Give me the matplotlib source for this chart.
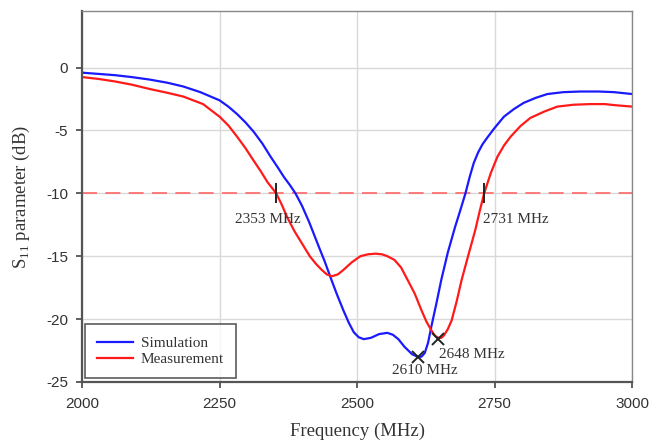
import matplotlib
matplotlib.use("Agg")
import matplotlib.pyplot as plt

# ---------------------------------------------------------------
# data
# ---------------------------------------------------------------
sim_freq = [2000, 2030, 2060, 2090, 2123, 2155, 2184, 2215, 2250, 2266,
            2282, 2297, 2312, 2328, 2343, 2356, 2367, 2378, 2388, 2400,
            2413, 2430, 2441, 2451, 2463, 2475, 2485, 2494, 2503, 2512,
            2525, 2540, 2555, 2565, 2575, 2586, 2600, 2610, 2617, 2623,
            2629, 2635, 2644, 2653, 2665, 2678, 2688, 2697, 2705, 2712,
            2720, 2728, 2737, 2750, 2767, 2785, 2803, 2825, 2846, 2875,
            2906, 2940, 2967, 3000]
sim_s11 = [-0.40, -0.50, -0.60, -0.75, -0.95, -1.2, -1.5, -1.95, -2.6, -3.1,
           -3.7, -4.35, -5.1, -6.05, -7.1, -7.95, -8.7, -9.35, -10.0, -11.0,
           -12.3, -14.2, -15.4, -16.6, -18.0, -19.3, -20.3, -21.05, -21.45, -21.6,
           -21.5, -21.2, -21.1, -21.25, -21.6, -22.2, -22.8, -23.0, -23.0, -22.7,
           -21.9, -20.6, -18.8, -16.9, -14.7, -12.7, -11.3, -10.0, -8.65, -7.6,
           -6.75, -6.1, -5.55, -4.8, -3.9, -3.3, -2.8, -2.4, -2.1, -1.95,
           -1.9, -1.9, -1.95, -2.1]

meas_freq = [2000, 2030, 2060, 2090, 2123, 2155, 2184, 2220, 2250, 2266,
             2282, 2297, 2312, 2325, 2337, 2345, 2353, 2363, 2373, 2386,
             2400, 2414, 2425, 2436, 2445, 2454, 2465, 2475, 2490, 2506,
             2520, 2534, 2545, 2555, 2568, 2580, 2592, 2605, 2617, 2626,
             2635, 2642, 2648, 2653, 2658, 2665, 2672, 2681, 2690, 2703,
             2715, 2723, 2731, 2743, 2755, 2767, 2779, 2797, 2815, 2840,
             2864, 2894, 2924, 2950, 2972, 3000]
meas_s11 = [-0.75, -0.9, -1.1, -1.35, -1.7, -2.0, -2.3, -2.9, -3.9, -4.6,
            -5.5, -6.4, -7.4, -8.25, -9.1, -9.55, -10.0, -10.9, -11.9, -13.0,
            -14.0, -15.0, -15.6, -16.1, -16.45, -16.6, -16.45, -16.1, -15.5, -15.0,
            -14.85, -14.8, -14.85, -15.0, -15.3, -15.9, -16.9, -18.0, -19.3, -20.2,
            -20.9, -21.35, -21.5, -21.5, -21.3, -20.8, -20.1, -18.6, -16.9, -14.8,
            -12.9, -11.4, -10.0, -8.4, -7.1, -6.2, -5.5, -4.65, -4.0, -3.5,
            -3.1, -2.95, -2.9, -2.9, -3.0, -3.1]

threshold = -10
bw_marks = [2353, 2731]
bw_labels = ["2353 MHz", "2731 MHz"]
res_freq = [2610, 2648]
res_s11 = [-23.0, -21.6]
res_labels = ["2610 MHz", "2648 MHz"]

x_ticks = [2000, 2250, 2500, 2750, 3000]
y_ticks = [0, -5, -10, -15, -20, -25]

# ---------------------------------------------------------------
# figure
# ---------------------------------------------------------------
plt.rcParams.update({
    "font.family": "Liberation Sans",
    "axes.unicode_minus": False,
})

fig = plt.figure(figsize=(6.51, 4.43), dpi=100)
ax = fig.add_axes([0.126, 0.138, 0.845, 0.837])

ax.grid(True, color="#d9d9d9", linewidth=1.0)
ax.set_axisbelow(True)

ax.axhline(threshold, color="#ff6666", linewidth=1.2, linestyle=(0, (9, 5)))

ax.plot(sim_freq, sim_s11, color="#1a1aff", linewidth=1.6, label="Simulation")
ax.plot(meas_freq, meas_s11, color="#ff1a1a", linewidth=1.6, label="Measurement")

serif = "Liberation Serif"
for f, lab, dx in zip(bw_marks, bw_labels, [-6, 23]):
    ax.plot([f], [threshold], marker="|", markersize=15, color="#222222",
            markeredgewidth=1.4)
    ax.annotate(lab, (f, threshold), xytext=(dx, -19), textcoords="offset points",
                ha="center", va="center", fontsize=11, family=serif, color="#333333")

for f, s, lab, off in zip(res_freq, res_s11, res_labels, [(5, -10), (24, -11)]):
    ax.plot([f], [s], marker="x", markersize=9, color="#222222", markeredgewidth=1.4)
    ax.annotate(lab, (f, s), xytext=off, textcoords="offset points",
                ha="center", va="center", fontsize=11, family=serif, color="#333333")

ax.set_xlim(2000, 3000)
ax.set_ylim(-25, 4.5)
ax.set_xticks(x_ticks)
ax.set_yticks(y_ticks)
ax.tick_params(direction="out", length=4, width=1.2, color="#444444",
               labelsize=11, labelcolor="#333333")
ax.tick_params(axis="x", pad=7)
ax.tick_params(axis="y", pad=6)

ax.set_xlabel("Frequency (MHz)", family=serif, fontsize=13.5, color="#333333", labelpad=8)
ax.set_ylabel(r"S$_{\mathregular{11}}$ parameter (dB)", family=serif, fontsize=13.5,
              color="#333333", labelpad=10)

for side in ["left", "bottom"]:
    ax.spines[side].set_color("#555555")
    ax.spines[side].set_linewidth(1.6)
for side in ["top", "right"]:
    ax.spines[side].set_color("#888888")
    ax.spines[side].set_linewidth(1.0)

leg = ax.legend(loc="lower left", bbox_to_anchor=(0.005, 0.01), borderaxespad=0,
                frameon=True, fancybox=False, prop={"family": serif, "size": 11},
                handlelength=2.35, handletextpad=0.5, borderpad=0.8, labelspacing=0.15)
leg.get_frame().set_edgecolor("#333333")
leg.get_frame().set_linewidth(1.2)
for t in leg.get_texts():
    t.set_color("#333333")

fig.savefig("out.png", dpi=100, facecolor="white")
